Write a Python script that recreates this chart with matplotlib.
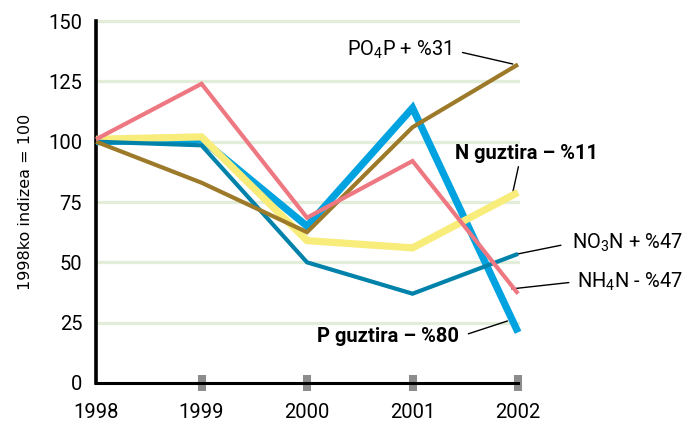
import matplotlib
matplotlib.use("Agg")
import matplotlib.pyplot as plt

plt.rcParams['font.family'] = ['Roboto', 'DejaVu Sans']

# data (index, 1998 = 100)
years = [1998, 1999, 2000, 2001, 2002]
p_guztira = [100, 101, 65, 114, 21]
n_guztira = [101, 102, 59, 56, 79]
no3n = [100, 98.5, 50, 37, 53.5]
po4p = [100, 83, 62.5, 106, 132]
nh4n = [101, 124, 68.5, 92, 37]

yticks = [0, 25, 50, 75, 100, 125, 150]

fig = plt.figure(figsize=(6.82, 4.21), dpi=100)
ax = fig.add_axes([0.1408, 0.0903, 0.6188, 0.8597])

# gridlines
for v in yticks[1:]:
    ax.axhline(v, color='#E2EDDA', lw=2.3, zorder=1, clip_on=False)

style = dict(solid_capstyle='butt', solid_joinstyle='miter', clip_on=False)
ax.plot(years, p_guztira, color='#00A2E0', lw=5.2, zorder=3, **style)
ax.plot(years, n_guztira, color='#F8EC7A', lw=5.2, zorder=4, **style)
ax.plot(years, no3n, color='#0082AA', lw=3.0, zorder=5, **style)
ax.plot(years, po4p, color='#9C7A2A', lw=3.0, zorder=6, **style)
ax.plot(years, nh4n, color='#EE7882', lw=3.0, zorder=7, **style)

ax.set_xlim(1998, 2002)
ax.set_ylim(0, 150)
ax.set_yticks(yticks)
ax.set_xticks(years)
ax.tick_params(axis='y', length=0, pad=10, labelsize=14.5)
ax.tick_params(axis='x', direction='inout', length=11.5, width=5.8,
               color='#8C8C8C', pad=9, labelsize=14.5)
ax.xaxis.get_major_ticks()[0].tick1line.set_visible(False)

for s in ['top', 'right']:
    ax.spines[s].set_visible(False)
ax.spines['left'].set_linewidth(2.6)
ax.spines['bottom'].set_linewidth(2.2)

ax.set_ylabel('1998ko indizea = 100', fontsize=11.5, labelpad=11,
              family='DejaVu Sans')

arrow = dict(arrowstyle='-', color='black', lw=1.0, shrinkB=0)

ax.annotate('PO$_\\mathregular{4}$P + %31', xy=(2001.95, 132.2),
            xytext=(2001.37, 138), ha='right', va='center', fontsize=14.5,
            arrowprops=dict(arrow, relpos=(1, 0.5), shrinkA=6),
            annotation_clip=False)
ax.annotate('N guztira – %11', xy=(2001.95, 79), xytext=(2002.08, 95.3),
            ha='center', va='center', fontsize=14.5, fontweight='bold',
            arrowprops=dict(arrow, relpos=(0.45, 0), shrinkA=1),
            annotation_clip=False)
ax.annotate('NO$_\\mathregular{3}$N + %47', xy=(2002.0, 53.5),
            xytext=(2002.51, 58), ha='left', va='center', fontsize=14.5,
            arrowprops=dict(arrow, relpos=(0, 0.5), shrinkA=6),
            annotation_clip=False)
ax.annotate('NH$_\\mathregular{4}$N - %47', xy=(2001.94, 39),
            xytext=(2002.56, 42), ha='left', va='center', fontsize=14.5,
            arrowprops=dict(arrow, relpos=(0, 0.5), shrinkA=4),
            annotation_clip=False)
ax.annotate('P guztira – %80', xy=(2001.9, 25.7), xytext=(2001.44, 19.1),
            ha='right', va='center', fontsize=14.5, fontweight='bold',
            arrowprops=dict(arrow, relpos=(1, 0.5), shrinkA=5),
            annotation_clip=False)

fig.savefig('out.png', dpi=100)
